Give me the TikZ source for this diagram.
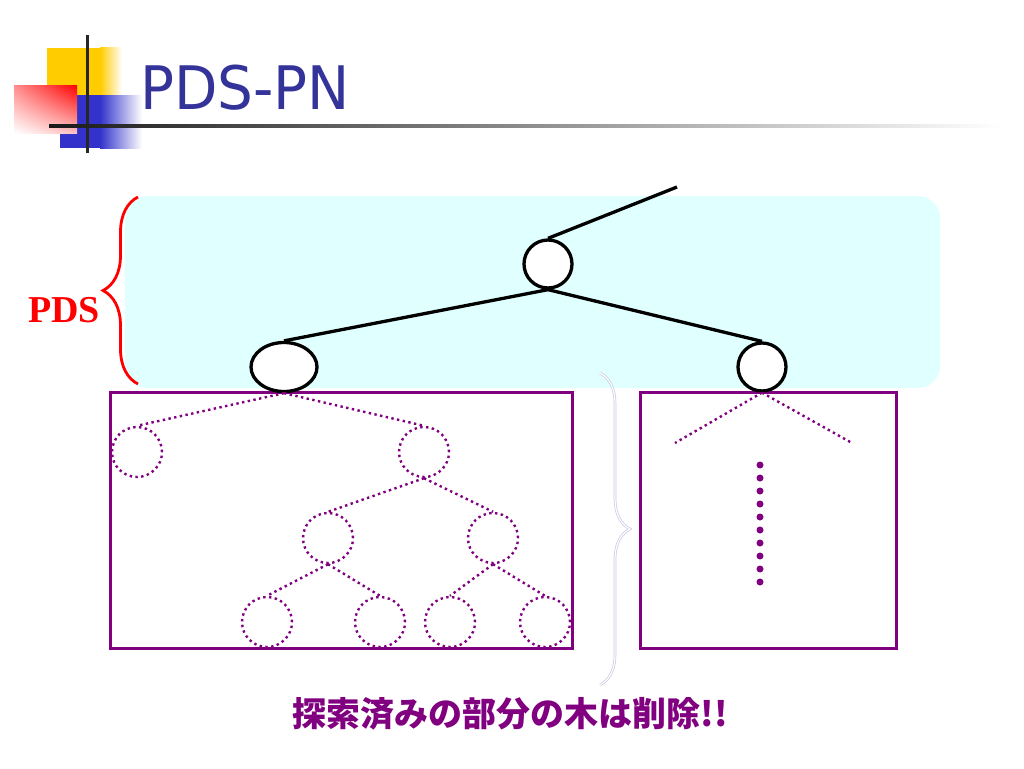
\documentclass[tikz,border=0pt]{standalone}
\usepackage{fontspec}
\usepackage{graphicx}
\setmainfont{Liberation Serif}
\newfontfamily\titlefont{DejaVu Sans}
\newfontfamily\cjk{Noto Sans CJK JP}
\usetikzlibrary{arrows.meta, positioning, shapes, shapes.geometric, calc, shadings, decorations.pathreplacing}

\definecolor{titleBlue}{RGB}{51,51,153}
\definecolor{pdsCyan}{RGB}{224,255,255}
\definecolor{prunePurple}{RGB}{128,0,128}
\definecolor{braceGray}{RGB}{200,200,228}
\definecolor{logoYellow}{RGB}{255,204,0}
\definecolor{logoBlue}{RGB}{51,51,204}

\begin{document}
\begin{tikzpicture}[
    x=1pt, y=-1pt,
    treeNode/.style = {
        draw,
        circle,
        line width=3.3pt,
        fill=white,
        minimum size=48pt,
        inner sep=0pt,
    },
    wideNode/.style = {
        treeNode,
        ellipse,
        minimum width=66pt,
        minimum height=49pt,
    },
    prunedNode/.style = {
        draw=prunePurple,
        circle,
        line width=2.4pt,
        dash pattern=on 2.4pt off 3.4pt,
        minimum size=50pt,
        inner sep=0pt,
    },
    pruneBox/.style = {
        draw=prunePurple,
        rectangle,
        line width=3pt,
        fill=white,
        inner sep=0pt,
    },
    has/.style = {
        line width=3.3pt,
    },
    pruned/.style = {
        draw=prunePurple,
        line width=2.4pt,
        dash pattern=on 2.4pt off 3.4pt,
    },
    pdsBrace/.style = {
        draw=red,
        line width=2.8pt,
        decorate,
        decoration={brace, amplitude=35pt},
    },
    noteBrace/.style = {
        draw=braceGray,
        double=white,
        double distance=1.2pt,
        line width=0.7pt,
        decorate,
        decoration={brace, amplitude=30pt},
    },
]
\useasboundingbox (0,0) rectangle (1024,768);

% logo and title
\fill[logoYellow] (47,48) rectangle (100,112);
\shade[left color=logoYellow, right color=white] (100,48) rectangle (122,112);
\fill[logoBlue] (60,95) rectangle (100,148);
\shade[left color=logoBlue, right color=white] (100,95) rectangle (142,148);
\shade[upper left=red!45, upper right=red, lower left=white, lower right=red!25]
    (14,85) rectangle (77,133);
\draw[line width=3pt, black!85] (87,35) -- (87,153);
\shade[left color=black!90, middle color=black!55, right color=white]
    (49,124.5) rectangle (1000,127.5);

\node(Title)[anchor=base west, text=titleBlue, inner sep=0pt] at (140,109)
    {\titlefont\fontsize{60}{60}\selectfont\scalebox{0.94}[1]{PDS-PN}};

% PDS region
\fill[pdsCyan, rounded corners=22pt] (125,196) rectangle (940,388);
\draw[pdsBrace] (138,384) -- (138,197);
\node(PDS Label)[anchor=base west, text=red, inner sep=0pt] at (28,322)
    {\fontsize{38}{38}\selectfont\bfseries PDS};

% pruned subtrees
\node(Left Box)[pruneBox, minimum width=462pt, minimum height=256pt] at (341,520) {};
\node(Right Box)[pruneBox, minimum width=256pt, minimum height=256pt] at (768,520) {};

\draw[noteBrace] (600,373) -- (600,685);

% proof number search tree
\node(Root)[treeNode] at (548,264) {};
\node(Left)[wideNode] at (284,367) {};
\node(Right)[treeNode] at (762,367) {};
\coordinate(Parent) at (677,187);

\draw[has] (Root.north) -- (Parent);
\draw[has] (Root.south) -- (Left.north);
\draw[has] (Root.south) -- (Right.north);

\node(A)[prunedNode] at (137,452) {};
\node(B)[prunedNode] at (424,452) {};
\node(C)[prunedNode] at (328,538) {};
\node(D)[prunedNode] at (493,538) {};
\node(E)[prunedNode] at (267,622) {};
\node(F)[prunedNode] at (380,622) {};
\node(G)[prunedNode] at (450,622) {};
\node(H)[prunedNode] at (545,622) {};

\draw[pruned] (Left.south) -- (A.north);
\draw[pruned] (Left.south) -- (B.north);
\draw[pruned] (B.south) -- (C.north);
\draw[pruned] (B.south) -- (D.north);
\draw[pruned] (C.south) -- (E.north);
\draw[pruned] (C.south) -- (F.north);
\draw[pruned] (D.south) -- (G.north);
\draw[pruned] (D.south) -- (H.north);

\coordinate(Right Left) at (675,443);
\coordinate(Right Right) at (852,443);
\draw[pruned] (Right.south) -- (Right Left);
\draw[pruned] (Right.south) -- (Right Right);

\foreach \i in {0,...,9}
    \fill[prunePurple] (760,465+13*\i) circle (3.5pt);

\node(Pruned Note)[anchor=base, text=prunePurple, inner sep=0pt] at (510,726)
    {\cjk\bfseries\fontsize{34}{34}\selectfont 探索済みの部分の木は削除!!};

\end{tikzpicture}
\end{document}
